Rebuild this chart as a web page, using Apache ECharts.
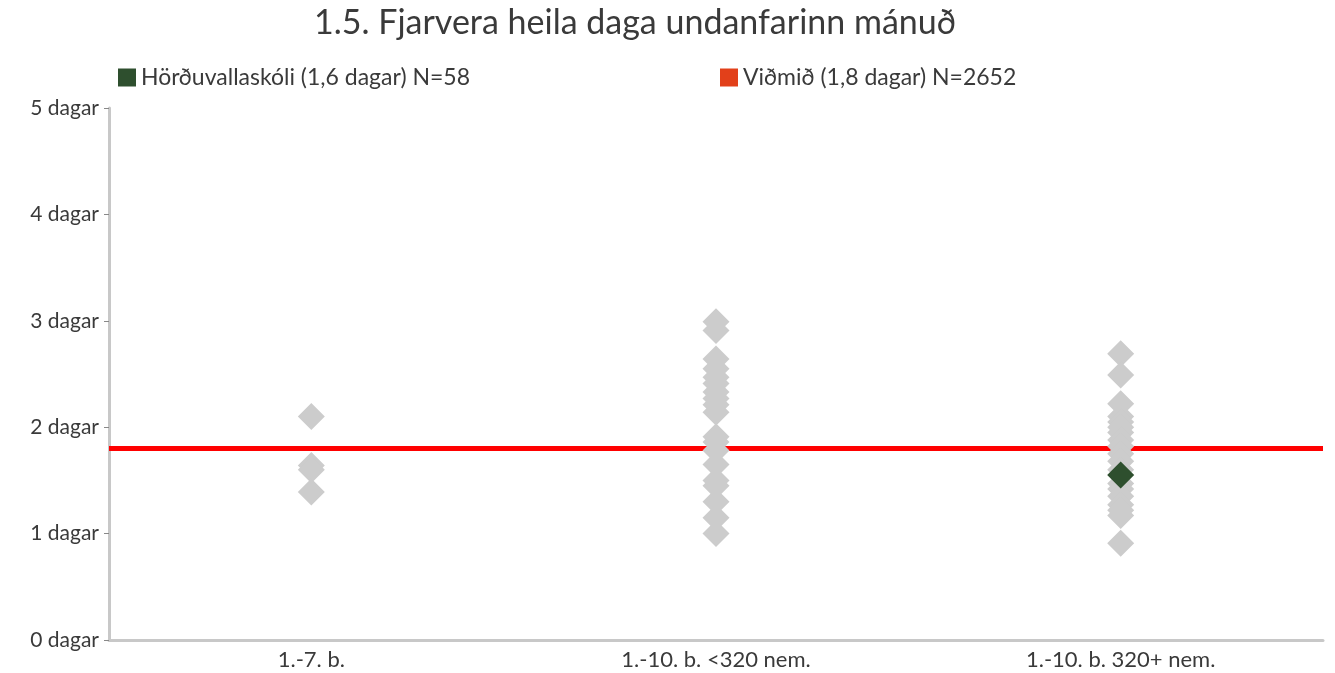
<!DOCTYPE html>
<html>
<head>
<meta charset="utf-8">
<script src="https://cdn.jsdelivr.net/npm/echarts@6/dist/echarts.min.js"></script>
<style>
  html, body { margin: 0; padding: 0; background: #fff; }
  #main { width: 1335px; height: 673px; }
</style>
</head>
<body>
<div id="main"></div>
<script>
var categories = ['1.-7. b.', '1.-10. b. <320 nem.', '1.-10. b. 320+ nem.'];
// other schools, one list per category
var otherSmall = [2.10, 1.64, 1.60, 1.39];
var otherMid = [2.99, 2.91, 2.64, 2.55, 2.47, 2.41, 2.33, 2.27, 2.21, 2.14, 1.91, 1.86, 1.78, 1.65, 1.50, 1.45, 1.30, 1.15, 1.00];
var otherLarge = [2.69, 2.49, 2.22, 2.10, 2.05, 2.00, 1.95, 1.88, 1.82, 1.75, 1.68, 1.60, 1.47, 1.42, 1.35, 1.27, 1.22, 1.17, 0.91];
var schoolCat = 2;
var schoolValue = 1.55;
var benchmark = 1.8;
var yTicks = [0, 1, 2, 3, 4, 5];

var schoolName = 'Hörðuvallaskóli (1,6 dagar) N=58';
var benchName = 'Viðmið (1,8 dagar) N=2652';

var myChart = echarts.init(document.getElementById('main'));

var others = [];
[otherSmall, otherMid, otherLarge].forEach(function(list, ci) {
	list.forEach(function(v) {
		others.push([ci, v]);
	});
});

var font = 'Lato, "Noto Sans", sans-serif';

var option = {
	backgroundColor: '#fff',
	textStyle: { fontFamily: font },
	title: {
		text: '1.5. Fjarvera heila daga undanfarinn mánuð',
		left: 630,
		textAlign: 'center',
		top: 1,
		textStyle: {
			color: '#3a3a3a',
			fontSize: 34,
			fontWeight: 'normal',
			fontFamily: font
		}
	},
	legend: [{
		data: [{ name: schoolName }],
		left: 113,
		top: 61,
		icon: 'rect',
		itemWidth: 18,
		itemHeight: 18,
		itemGap: 8,
		textStyle: { fontSize: 23, color: '#3a3a3a', fontFamily: font }
	}, {
		data: [{ name: benchName, itemStyle: { color: '#e2401a' } }],
		left: 715,
		top: 61,
		icon: 'rect',
		itemWidth: 18,
		itemHeight: 18,
		textStyle: { fontSize: 23, color: '#3a3a3a', fontFamily: font }
	}],
	grid: {
		left: 109,
		right: 12,
		top: 108,
		bottom: 33,
		containLabel: false
	},
	xAxis: {
		type: 'category',
		data: categories,
		axisLine: { lineStyle: { color: '#c8c8c8', width: 3 } },
		axisTick: { show: false },
		axisLabel: { fontSize: 22, color: '#3a3a3a', margin: 9, fontFamily: font },
		splitLine: { show: false }
	},
	yAxis: {
		type: 'value',
		min: yTicks[0],
		max: yTicks[yTicks.length - 1],
		interval: 1,
		axisLine: { show: true, lineStyle: { color: '#c8c8c8', width: 3 } },
		axisTick: { show: true, length: 5, lineStyle: { color: '#888', width: 1 } },
		axisLabel: {
			fontSize: 21,
			color: '#3a3a3a',
			margin: 10,
			fontFamily: font,
			formatter: '{value} dagar'
		},
		splitLine: { show: false }
	},
	series: [{
		name: 'Aðrir skólar',
		type: 'scatter',
		symbol: 'diamond',
		symbolSize: 27,
		z: 3,
		itemStyle: { color: '#cccccc', opacity: 1 },
		data: others
	}, {
		name: benchName,
		type: 'line',
		data: [],
		itemStyle: { color: '#e2401a' },
		markLine: {
			silent: true,
			symbol: 'none',
			z: 1,
			label: { show: false },
			lineStyle: { color: '#ff0000', width: 5, type: 'solid' },
			data: [{ yAxis: benchmark }]
		}
	}, {
		name: schoolName,
		type: 'scatter',
		symbol: 'diamond',
		symbolSize: 27,
		z: 4,
		itemStyle: { color: '#2e4f2e', opacity: 1 },
		data: [[schoolCat, schoolValue]]
	}]
};

myChart.setOption(option);
</script>
</body>
</html>
